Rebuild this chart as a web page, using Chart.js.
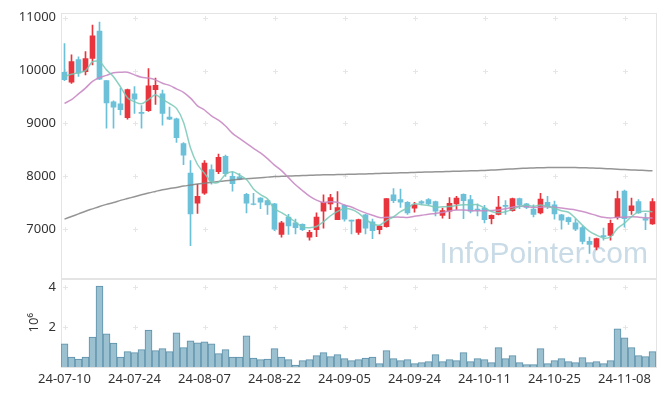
<!DOCTYPE html>
<html>
<head>
<meta charset="utf-8">
<script src="https://cdn.jsdelivr.net/npm/chart.js@4.4.1/dist/chart.umd.min.js"></script>
<style>
  html, body { margin: 0; padding: 0; background: #fff; }
  #wrap { width: 665px; height: 396px; }
</style>
</head>
<body>
<div id="wrap"><canvas id="chart" width="665" height="396"></canvas></div>
<script>
// --------------- Data ---------------
const dates = [
  "24-07-10","24-07-11","24-07-12","24-07-15","24-07-16","24-07-17","24-07-18","24-07-19","24-07-22","24-07-23",
  "24-07-24","24-07-25","24-07-26","24-07-29","24-07-30","24-07-31","24-08-01","24-08-02","24-08-05","24-08-06",
  "24-08-07","24-08-08","24-08-09","24-08-12","24-08-13","24-08-14","24-08-16","24-08-19","24-08-20","24-08-21",
  "24-08-22","24-08-23","24-08-26","24-08-27","24-08-28","24-08-29","24-08-30","24-09-02","24-09-03","24-09-04",
  "24-09-05","24-09-06","24-09-09","24-09-10","24-09-11","24-09-12","24-09-13","24-09-19","24-09-20","24-09-23",
  "24-09-24","24-09-25","24-09-26","24-09-27","24-09-30","24-10-02","24-10-04","24-10-07","24-10-08","24-10-10",
  "24-10-11","24-10-14","24-10-15","24-10-16","24-10-17","24-10-18","24-10-21","24-10-22","24-10-23","24-10-24",
  "24-10-25","24-10-28","24-10-29","24-10-30","24-10-31","24-11-01","24-11-04","24-11-05","24-11-06","24-11-07",
  "24-11-08","24-11-11","24-11-12","24-11-13","24-11-14"
];

const openP = [
  9970, 9780, 10210, 9980, 10230, 10750, 9810, 9410, 9370, 9110,
  9560, 9210, 9240, 9640, 9560, 9120, 9090, 8620, 8060, 7490,
  7680, 8130, 8090, 8380, 8000, 7990, 7660, 7480, 7590, 7540,
  7480, 6900, 7230, 7120, 7090, 6850, 6990, 7340, 7480, 7180,
  7450, 7170, 6940, 7270, 7140, 6990, 7050, 7650, 7560, 7510,
  7400, 7520, 7560, 7520, 7260, 7340, 7480, 7660, 7560, 7380,
  7400, 7200, 7280, 7450, 7350, 7580, 7480, 7380, 7310, 7510,
  7460, 7270, 7220, 7120, 7030, 6770, 6660, 6880, 6880, 7220,
  7720, 7350, 7520, 7200, 7100
];
const highP = [
  10510, 10300, 10260, 10360, 10860, 10920, 9810, 9430, 9670, 9650,
  9700, 9340, 10040, 9860, 9630, 9310, 9100, 8640, 8300, 7850,
  8300, 8220, 8420, 8400, 8080, 8050, 7680, 7680, 7600, 7550,
  7490, 7150, 7280, 7190, 7100, 6980, 7310, 7650, 7660, 7710,
  7460, 7170, 7190, 7280, 7190, 7070, 7580, 7770, 7760, 7520,
  7510, 7540, 7580, 7530, 7400, 7600, 7620, 7670, 7640, 7480,
  7450, 7270, 7620, 7540, 7590, 7590, 7490, 7460, 7680, 7620,
  7530, 7280, 7230, 7190, 7060, 6850, 6830, 7020, 7170, 7720,
  7740, 7590, 7560, 7300, 7580
];
const lowP = [
  9810, 9760, 9890, 9920, 10110, 9830, 8910, 8910, 9160, 9080,
  9190, 8910, 9230, 9360, 8970, 9070, 8640, 8220, 6690, 7300,
  7660, 7850, 8050, 8000, 7720, 7930, 7310, 7460, 7390, 7280,
  6970, 6850, 6900, 6910, 6970, 6790, 6860, 7020, 7370, 7180,
  7150, 6910, 6900, 6910, 6820, 6910, 7040, 7500, 7410, 7280,
  7320, 7470, 7460, 7250, 7210, 7200, 7370, 7200, 7310, 7250,
  7120, 7100, 7270, 7280, 7340, 7390, 7390, 7230, 7290, 7390,
  7190, 7000, 7090, 6970, 6720, 6540, 6610, 6790, 6790, 7190,
  7040, 7280, 7300, 6990, 7090
];
const closeP = [
  9830, 10170, 9950, 10230, 10660, 9840, 9390, 9310, 9260, 9640,
  9460, 9190, 9710, 9720, 9190, 9080, 8730, 8400, 7290, 7620,
  8250, 7910, 8360, 8050, 7860, 7940, 7490, 7470, 7510, 7460,
  7000, 7120, 7060, 7030, 6990, 6940, 7230, 7510, 7600, 7410,
  7190, 7150, 7180, 7020, 6970, 7060, 7580, 7540, 7510, 7310,
  7460, 7490, 7480, 7340, 7350, 7490, 7590, 7540, 7340, 7360,
  7180, 7260, 7420, 7430, 7580, 7460, 7410, 7280, 7570, 7430,
  7290, 7170, 7140, 7000, 6770, 6710, 6820, 6860, 7110, 7580,
  7200, 7440, 7310, 7170, 7520
];

// moving averages
const ma5 = [
  9890, 9930, 9960, 10000, 10168, 10170, 10014, 9886, 9692, 9488,
  9412, 9372, 9452, 9544, 9454, 9378, 9286, 9024, 8538, 8224,
  8058, 7894, 7886, 8038, 8086, 8024, 7940, 7762, 7654, 7574,
  7386, 7312, 7230, 7134, 7040, 7028, 7050, 7140, 7254, 7338,
  7388, 7372, 7306, 7190, 7102, 7076, 7162, 7234, 7332, 7400,
  7480, 7462, 7450, 7416, 7424, 7430, 7450, 7462, 7462, 7464,
  7402, 7336, 7312, 7330, 7374, 7430, 7460, 7432, 7460, 7430,
  7396, 7348, 7320, 7206, 7074, 6958, 6888, 6832, 6854, 7016,
  7114, 7238, 7328, 7340, 7328
];
const ma20 = [
  9380, 9450, 9560, 9670, 9795, 9870, 9910, 9960, 9970, 9970,
  9920, 9875, 9860, 9825, 9760, 9720, 9655, 9590, 9480, 9334,
  9255, 9142, 9062, 8953, 8813, 8718, 8623, 8531, 8444, 8335,
  8212, 8108, 7976, 7841, 7731, 7624, 7549, 7505, 7520, 7510,
  7457, 7419, 7360, 7308, 7264, 7220, 7224, 7228, 7228, 7220,
  7243, 7262, 7283, 7298, 7316, 7344, 7362, 7363, 7350, 7348,
  7347, 7353, 7365, 7385, 7416, 7436, 7427, 7414, 7417, 7423,
  7415, 7399, 7382, 7365, 7336, 7297, 7258, 7224, 7213, 7224,
  7225, 7234, 7228, 7216, 7213
];
const ma120 = [
  7190, 7240, 7290, 7340, 7385, 7430, 7470, 7505, 7545, 7580,
  7615, 7650, 7685, 7715, 7745, 7770, 7790, 7815, 7835, 7855,
  7870, 7885, 7900, 7915, 7930, 7945, 7955, 7965, 7975, 7985,
  7995, 8000, 8005, 8010, 8015, 8020, 8025, 8028, 8030, 8033,
  8036, 8040, 8043, 8046, 8050, 8054, 8058, 8062, 8066, 8070,
  8074, 8078, 8082, 8085, 8088, 8092, 8096, 8100, 8104, 8108,
  8112, 8118, 8125, 8133, 8140, 8148, 8155, 8160, 8163, 8165,
  8167, 8168, 8168, 8166, 8163, 8160, 8155, 8148, 8142, 8135,
  8128, 8122, 8116, 8110, 8105
];

const volume = [
  1170000, 500000, 400000, 500000, 1500000, 4070000, 1670000, 1200000, 500000, 770000,
  720000, 870000, 1850000, 820000, 920000, 770000, 1720000, 970000, 1320000, 1220000,
  1270000, 1170000, 670000, 870000, 500000, 500000, 1570000, 450000, 370000, 400000,
  920000, 500000, 370000, 100000, 320000, 370000, 570000, 720000, 520000, 620000,
  420000, 320000, 370000, 450000, 500000, 170000, 820000, 420000, 320000, 370000,
  170000, 220000, 270000, 620000, 270000, 370000, 320000, 720000, 270000, 420000,
  370000, 220000, 970000, 420000, 570000, 220000, 120000, 120000, 920000, 170000,
  320000, 420000, 270000, 220000, 470000, 220000, 270000, 170000, 320000, 1920000,
  1470000, 970000, 570000, 520000, 770000
];

// tick labels
const priceTicks = [7000, 8000, 9000, 10000, 11000];
const volumeTicks = [2000000, 4000000];

// --------------- Styles ---------------
const UP = '#e8353d';
const DOWN = '#6cc1d9';
const FONT = '"Noto Sans", "Liberation Sans", sans-serif';
const candleColors = openP.map((o, i) => closeP[i] >= o ? UP : DOWN);

// --------------- Plugin: frames, grid crosses, watermark ---------------
const decorPlugin = {
  id: 'decor',
  beforeDatasetsDraw(chart) {
    const { ctx, chartArea, scales } = chart;
    const x = scales.x;
    ctx.save();

    // watermark
    ctx.font = '30px "Liberation Sans", sans-serif';
    ctx.fillStyle = '#c9dbe6';
    ctx.textAlign = 'right';
    ctx.textBaseline = 'alphabetic';
    ctx.fillText('InfoPointer.com', chartArea.right - 8, scales.y.bottom - 15);

    // small "+" marks where grid lines would cross
    ctx.strokeStyle = '#e6e6e6';
    ctx.lineWidth = 1;
    [[scales.y, priceTicks], [scales.yv, volumeTicks]].forEach(([s, tv]) => {
      tv.forEach(v => {
        const py = Math.round(s.getPixelForValue(v)) + 0.5;
        for (let k = 0; k < dates.length; k += 10) {
          const px = Math.round(x.getPixelForValue(k)) + 0.5;
          ctx.beginPath();
          ctx.moveTo(px - 2.5, py); ctx.lineTo(px + 2.5, py);
          ctx.moveTo(px, py - 2.5); ctx.lineTo(px, py + 2.5);
          ctx.stroke();
        }
      });
    });

    // panel frames
    ctx.strokeStyle = '#e4e4e4';
    [scales.y, scales.yv].forEach(s => {
      ctx.strokeRect(chartArea.left + 0.5, Math.round(s.top) + 0.5,
        Math.round(chartArea.right - chartArea.left), Math.round(s.bottom - s.top));
    });
    ctx.restore();
  }
};

// --------------- Chart ---------------
const ctx = document.getElementById('chart').getContext('2d');
new Chart(ctx, {
  data: {
    labels: dates,
    datasets: [
      {
        type: 'line', label: 'MA5', data: ma5, yAxisID: 'y', order: 0,
        borderColor: 'rgba(120,200,182,0.85)', borderWidth: 1.5, pointRadius: 0, tension: 0.3
      },
      {
        type: 'line', label: 'MA20', data: ma20, yAxisID: 'y', order: 0,
        borderColor: 'rgba(200,138,196,0.9)', borderWidth: 1.5, pointRadius: 0, tension: 0.3
      },
      {
        type: 'line', label: 'MA120', data: ma120, yAxisID: 'y', order: 0,
        borderColor: 'rgba(130,130,130,0.85)', borderWidth: 1.5, pointRadius: 0, tension: 0.3
      },
      {
        type: 'bar', label: 'body', yAxisID: 'y', order: 1, grouped: false,
        data: openP.map((o, i) => [o, closeP[i]]),
        backgroundColor: candleColors, borderWidth: 0, barThickness: 5
      },
      {
        type: 'bar', label: 'wick', yAxisID: 'y', order: 2, grouped: false,
        data: lowP.map((l, i) => [l, highP[i]]),
        backgroundColor: candleColors, borderWidth: 0, barThickness: 1
      },
      {
        type: 'bar', label: 'Volume', data: volume, yAxisID: 'yv', order: 3, grouped: false,
        backgroundColor: '#9bc0d0', borderColor: '#5c91aa', borderWidth: 1,
        barPercentage: 1, categoryPercentage: 1
      }
    ]
  },
  options: {
    responsive: false,
    animation: false,
    devicePixelRatio: 1,
    layout: { padding: { top: 10, right: 9, left: 0, bottom: 0 } },
    plugins: { legend: { display: false }, tooltip: { enabled: false } },
    scales: {
      x: {
        type: 'category',
        offset: true,
        grid: { display: false, drawTicks: false },
        border: { display: false },
        afterFit: s => { s.height = 29; },
        ticks: {
          autoSkip: false, maxRotation: 0, padding: 4,
          color: '#333', font: { family: FONT, size: 13 },
          callback: (v, i) => i % 10 === 0 ? dates[i] : ''
        }
      },
      yv: {
        type: 'linear', position: 'left', stack: 'panels', stackWeight: 1,
        min: 0, max: 4450000,
        grid: { display: false, drawTicks: false },
        border: { display: false },
        afterFit: s => { s.width = 61; },
        afterBuildTicks: s => { s.ticks = volumeTicks.map(v => ({ value: v })); },
        title: {
          display: true, text: '10\u2076', color: '#333',
          font: { family: FONT, size: 13 }, padding: { top: 26, bottom: 0 }
        },
        ticks: {
          padding: 5, color: '#333', font: { family: FONT, size: 13 },
          callback: v => String(v / 1000000)
        }
      },
      y: {
        type: 'linear', position: 'left', stack: 'panels', stackWeight: 3,
        min: 6068, max: 11094,
        grid: { display: false, drawTicks: false },
        border: { display: false },
        afterFit: s => { s.width = 61; },
        afterBuildTicks: s => { s.ticks = priceTicks.map(v => ({ value: v })); },
        ticks: {
          padding: 5, color: '#333', font: { family: FONT, size: 13 },
          callback: v => String(v)
        }
      }
    }
  },
  plugins: [decorPlugin]
});
</script>
</body>
</html>
